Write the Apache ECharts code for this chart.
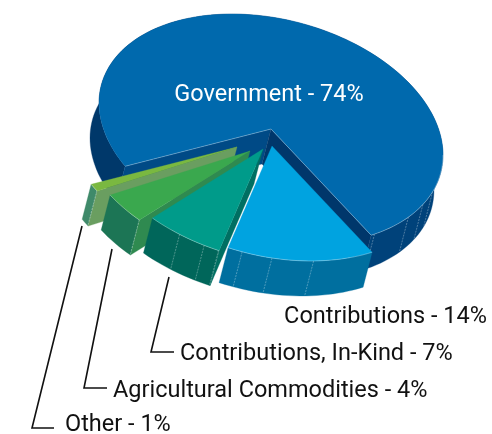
<!DOCTYPE html>
<html><head><meta charset="utf-8">
<style>html,body{margin:0;padding:0;background:#fff}#c{width:492px;height:434px}</style>
<script src="https://cdn.jsdelivr.net/npm/echarts@6/dist/echarts.min.js"></script>
</head><body><div id="c"></div>
<script>
const categories = ["Government","Contributions","Contributions, In-Kind","Agricultural Commodities","Other"];
const shares = [74,14,7,4,1];

const startDeg = 148;
const RX = 172, RYC = 26, RYS = 112;
const depth = [-9,35];
const apexes = [[271,129],[272,146],[263,149],[250,151],[237,147]];
const drawOrder = [0,4,3,2,1];
const palette = [
 {top:'#0069ad',wall:'#00427a',back:'#00386a',inner:'#004a86',end:'#00376b'},
 {top:'#00a3e0',wall:'#006f9f'},
 {top:'#009b8a',wall:'#00665a',end:'#006f62'},
 {top:'#3aa84e',wall:'#1c7555',end:'#2f8a50'},
 {top:'#7ab840',wall:'#3f8a6a',end:'#6a9e60'}
];
const seams = [[413,397,388,380],[436,450,460],[465,470,479],[490.1],[504.6]];
const labelPos = [[269,95,'center'],[487,317,'right'],[180,354,'left'],[113,391,'left'],[65,425,'left']];
const leaders = [[[169,277],[151,352],[174,352]],[[112,249],[84,388],[107,388]],[[82,226],[32,428],[54,428]]];

const total = shares.reduce((a,b)=>a+b,0);
let acc = startDeg;
const spans = shares.map(v=>{const s=[acc,acc+v/total*360];acc=s[1];return s;});
function pt(ap,deg){const r=deg*Math.PI/180,c=Math.cos(r),s=Math.sin(r);return [ap[0]+RX*c,ap[1]+RYC*c+RYS*s];}
function arc(ap,a,b){const n=Math.max(2,Math.ceil(Math.abs(b-a)/2));const o=[];for(let i=0;i<=n;i++)o.push(pt(ap,a+(b-a)*i/n));return o;}
const dn=p=>[p[0]+depth[0],p[1]+depth[1]];
function poly(points,fill,z2){return {type:'polygon',shape:{points},style:{fill,stroke:fill,lineWidth:0.3},z2};}
const hi='rgba(255,255,255,0.5)';
function band(r){return r.concat(r.slice().reverse().map(dn));}
function renderItem(params,api){
  const i=params.dataIndex,[a,b]=spans[i],ap=apexes[i],col=palette[i];
  const base=drawOrder.indexOf(i)*10, ch=[];
  const rim=arc(ap,a,b), A=pt(ap,a), B=pt(ap,b);
  if(i===0){
    ch.push(poly(band(arc(ap,a,270)),col.back,base+1));
    ch.push(poly(band(arc(ap,270,b)),col.wall,base+1));
  } else ch.push(poly(band(rim),col.wall,base+1));
  if(i===0) ch.push(poly([ap,A,dn(A),dn(ap)],col.inner,base+2));
  if(col.end) ch.push(poly(i===0?[ap,B,dn(B),dn(ap)]:[ap,A,dn(A),dn(ap)],col.end,base+2));
  ch.push(poly([ap].concat(rim),col.top,base+4));
  seams[i].forEach(d=>{const p=pt(ap,d),q=dn(p);
    ch.push({type:'line',shape:{x1:p[0],y1:p[1],x2:q[0],y2:q[1]},style:{stroke:hi,lineWidth:0.6,lineDash:[2,1]},z2:base+3});});
  const edge=i===0?arc(ap,360,b):rim;
  ch.push({type:'polyline',shape:{points:edge},style:{fill:null,stroke:hi,lineWidth:0.6},z2:base+5});
  if(i===0) ch.push({type:'polyline',shape:{points:[A,ap,B]},style:{fill:null,stroke:hi,lineWidth:0.6},z2:base+5});
  return {type:'group',children:ch};
}
const chart=echarts.init(document.getElementById('c'),null,{renderer:'canvas'});
const textEls=categories.map((c,i)=>({type:'text',x:labelPos[i][0],y:labelPos[i][1],z:10,
  style:{text:c+' - '+shares[i]+'%',fill:i===0?'#fff':'#111',font:'23.5px Roboto',textAlign:labelPos[i][2],textVerticalAlign:'middle'}}));
const lineEls=leaders.map(p=>({type:'polyline',z:10,shape:{points:p},style:{stroke:'#111',lineWidth:1.6,fill:null}}));
chart.setOption({animation:false,
  graphic:{elements:textEls.concat(lineEls)},
  series:[{type:'custom',coordinateSystem:'none',renderItem,data:shares,silent:true}]});
</script></body></html>
